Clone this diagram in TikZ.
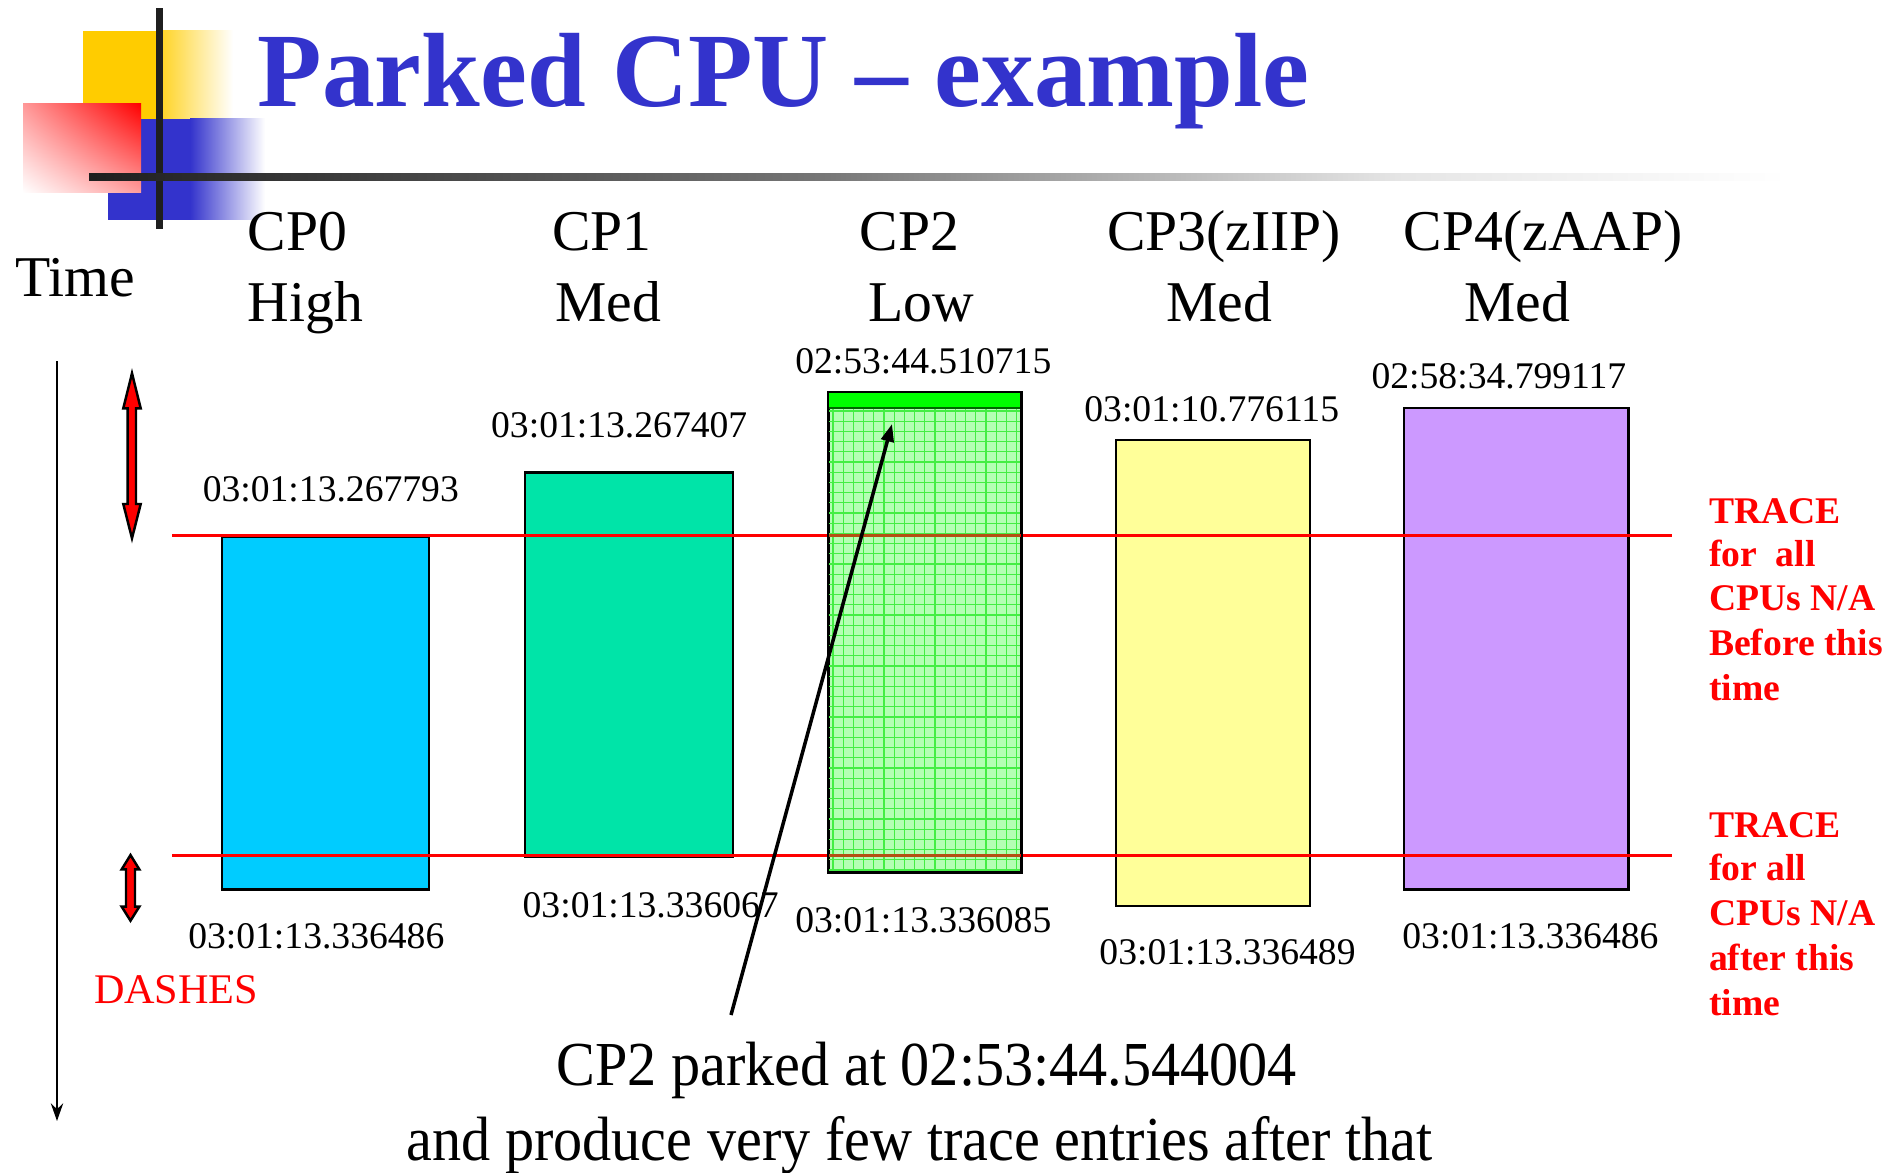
\documentclass[tikz,border=0pt]{standalone}
\usepackage{fontspec}
\setmainfont{Liberation Serif}
\newfontfamily\narrowserif[FakeStretch=0.93]{Liberation Serif}
\usetikzlibrary{arrows.meta,shadings}
\definecolor{titleblue}{HTML}{3333CC}
\definecolor{logoyellow}{HTML}{FFCC00}
\definecolor{logoblue}{HTML}{3333CC}
\definecolor{cpzero}{HTML}{00CCFF}
\definecolor{cpone}{HTML}{00E4A8}
\definecolor{cptwo}{HTML}{B4FFB4}
\definecolor{cptwogrid}{HTML}{44EE44}
\definecolor{cptwotop}{HTML}{00FF00}
\definecolor{cpthree}{HTML}{FFFF99}
\definecolor{cpfour}{HTML}{CC99FF}
\definecolor{tint}{HTML}{B45014}
\begin{document}
\begin{tikzpicture}[x=0.01cm,y=-0.01cm,
  hdr/.style={font=\fontsize{16.4pt}{18pt}\selectfont, inner sep=0, anchor=base west},
  lbl/.style={font=\fontsize{10.7pt}{12pt}\selectfont, inner sep=0, anchor=base},
  note/.style={font=\fontsize{10.7pt}{12pt}\bfseries\selectfont, text=red, inner sep=0, anchor=base west},
  bottomtxt/.style={font=\narrowserif\fontsize{17.8pt}{20pt}\selectfont, inner sep=0, anchor=base},
  bar/.style={draw=black, line width=0.6pt, inner sep=0, anchor=north west},
  traceline/.style={red, line width=0.7pt},
  dblarrow/.style={fill=red, draw=black, line width=0.7pt, line join=miter}
]
\useasboundingbox (0,0) rectangle (1900,1173);
\fill[white] (0,0) rectangle (1900,1173);

% ---- logo ----
\fill[logoyellow] (83,31) rectangle (161,120);
\shade[left color=logoyellow!85, right color=white] (161,31) rectangle (233,120);
\fill[logoblue] (108,119) rectangle (190,220);
\shade[left color=logoblue, right color=white] (190,119) rectangle (265,220);
\shade[upper right=red, upper left=red!40, lower right=red!38, lower left=white] (23,104) rectangle (141,193);
\fill[black!88] (156,8) rectangle (163,229);
\shade[left color=black!88, right color=black!55] (89,174) rectangle (800,181);
\shade[left color=black!55, right color=black!10] (800,174) rectangle (1400,181);
\shade[left color=black!10, right color=white] (1400,174) rectangle (1787,181);

% ---- title ----
\node[inner sep=0, anchor=base west, text=titleblue, font=\fontsize{30pt}{33pt}\bfseries\selectfont] (title) at (257,107) {Parked CPU – example};

% ---- headers ----
\node[hdr] (time) at (14.5,297) {Time};
\node[hdr] (h0a) at (247,250.8) {CP0};
\node[hdr] (h0b) at (247,321) {High};
\node[hdr] (h1a) at (551.3,250.8) {CP1};
\node[hdr] (h1b) at (555,321) {Med};
\node[hdr] (h2a) at (859.1,250.8) {CP2};
\node[hdr] (h2b) at (867.6,321) {Low};
\node[hdr] (h3a) at (1106.3,250.8) {CP3(zIIP)};
\node[hdr] (h3b) at (1165.7,321) {Med};
\node[hdr] (h4a) at (1403.2,250.8) {CP4(zAAP)};
\node[hdr] (h4b) at (1463.7,321) {Med};

% ---- bars ----
\node[bar, fill=cpzero, minimum width=2.072cm, minimum height=3.526cm] (cp0) at (220.5,535.6) {};
\node[bar, fill=cpone, minimum width=2.084cm, minimum height=3.841cm] (cp1) at (523.5,471.4) {};
\node[bar, fill=cptwo, minimum width=1.92cm, minimum height=4.79cm] (cp2) at (828,392) {};
\node[bar, fill=cpthree, minimum width=1.938cm, minimum height=4.665cm] (cp3) at (1114.8,438.6) {};
\node[bar, fill=cpfour, minimum width=2.241cm, minimum height=4.811cm] (cp4) at (1403.2,407.1) {};

% ---- trace lines ----
\coordinate (t1l) at (172,535.6);
\coordinate (t1r) at (1672,535.6);
\coordinate (t2l) at (172,855.5);
\coordinate (t2r) at (1672,855.5);
\draw[traceline] (t1l) -- (t1r);
\draw[traceline] (t2l) -- (t2r);

% ---- CP2 pattern ----
\begin{scope}
\clip (828,408) rectangle (1020,871);
\foreach \i in {0,...,18} {\draw[cptwogrid, line width=0.35pt] ({833+10.2*\i},408) -- ++(0,463);}
\foreach \j in {0,...,45} {\draw[cptwogrid, line width=0.35pt] (828,{411+10.2*\j}) -- ++(192,0);}
\draw[tint, line width=0.7pt] (t1l) -- (t1r);
\draw[tint, line width=0.7pt] (t2l) -- (t2r);
\end{scope}
\fill[cptwotop] (828,392) rectangle (1020,408);
\draw[green!40!black, line width=0.4pt] (828,408) -- (1020,408);
\draw[black, line width=0.6pt] (cp2.north west) rectangle (cp2.south east);

% ---- time labels ----
\node[lbl] (l0t) at (330.8,501.5) {03:01:13.267793};
\node[lbl] (l1t) at (619.2,437.3) {03:01:13.267407};
\node[lbl] (l2t) at (923.3,373.1) {02:53:44.510715};
\node[lbl] (l3t) at (1211.7,421.6) {03:01:10.776115};
\node[lbl] (l4t) at (1498.9,388.8) {02:58:34.799117};
\node[lbl] (l0b) at (316.3,948.6) {03:01:13.336486};
\node[lbl] (l1b) at (650.7,917.1) {03:01:13.336067};
\node[lbl] (l2b) at (923.3,932.9) {03:01:13.336085};
\node[lbl] (l3b) at (1227.5,964.4) {03:01:13.336489};
\node[lbl] (l4b) at (1530.4,948.6) {03:01:13.336486};

% ---- time axis ----
\coordinate (axtop) at (57,361);
\coordinate (axbot) at (57,1121);
\draw[line width=0.6pt, -{Stealth[length=5pt,width=3.5pt]}] (axtop) -- (axbot);

% ---- red double arrows ----
\draw[dblarrow] (132,373.3) -- (140.7,408.3) -- (136,408.3) -- (136,504) -- (140.7,504) -- (132,538.3)
  -- (123.3,504) -- (127.7,504) -- (127.7,408.3) -- (123.3,408.3) -- cycle;
\draw[dblarrow] (130.5,855) -- (139.3,869.3) -- (135,869.3) -- (135,906.7) -- (139.3,906.7) -- (130.5,920.7)
  -- (121.7,906.7) -- (126,906.7) -- (126,869.3) -- (121.7,869.3) -- cycle;
\node[inner sep=0, anchor=base west, text=red, font=\fontsize{12pt}{14pt}\selectfont] (dashes) at (93.3,1003) {DASHES};

% ---- right notes ----
\node[note] (na1) at (1708.3,523.3) {TRACE};
\node[note] (na2) at (1708.3,566) {for\ \ all};
\node[note] (na3) at (1708.3,610) {CPUs N/A};
\node[note] (na4) at (1708.3,655) {Before this};
\node[note] (na5) at (1708.3,700.7) {time};
\node[note] (nb1) at (1708.3,837) {TRACE};
\node[note] (nb2) at (1708.3,880.7) {for all};
\node[note] (nb3) at (1708.3,925) {CPUs N/A};
\node[note] (nb4) at (1708.3,970) {after this};
\node[note] (nb5) at (1708.3,1015) {time};

% ---- bottom text & arrow ----
\node[bottomtxt] (park1) at (926.7,1085) {CP2 parked at 02:53:44.544004};
\node[bottomtxt] (park2) at (919.7,1160) {and produce very few trace entries after that};
\coordinate (pfrom) at (731,1015);
\coordinate (pto) at (892,424);
\draw[line width=1pt, -{Triangle[length=5pt,width=3.6pt]}] (pfrom) -- (pto);
\end{tikzpicture}
\end{document}
